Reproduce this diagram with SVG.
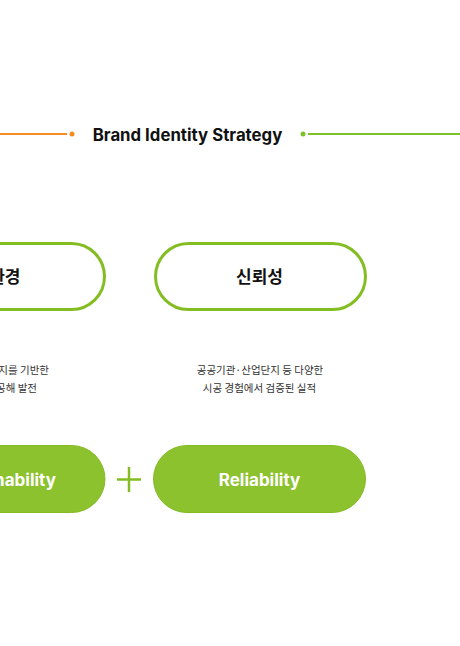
<svg xmlns="http://www.w3.org/2000/svg" width="460" height="646" viewBox="0 0 460 646">
<style>
.title{font-family:Inter,"Noto Sans","Noto Sans CJK KR",sans-serif;font-weight:700;font-size:16.8px;fill:#111}
.lbl{font-family:"Noto Sans CJK KR","Noto Sans",sans-serif;font-weight:700;font-size:17px;fill:#111;text-anchor:middle}
.desc{font-family:"Noto Sans CJK KR","Noto Sans",sans-serif;font-size:10.5px;fill:#333;text-anchor:middle}
.en{font-family:Inter,"Noto Sans",sans-serif;font-weight:700;font-size:17px;fill:#fff;text-anchor:middle}
.outline{fill:#fff;stroke:#84bd22;stroke-width:3}
.fill{fill:#8dc22f;stroke:#84bb25;stroke-width:1}
</style>
<rect width="460" height="646" fill="#fff"/>
<g id="header">
<line x1="0" y1="134" x2="67" y2="134" stroke="#f68b1f" stroke-width="2"/>
<circle cx="72" cy="134" r="2.5" fill="#f68b1f"/>
<text class="title" x="187.5" y="141" text-anchor="middle">Brand Identity Strategy</text>
<circle cx="303" cy="134" r="2.5" fill="#7cc02a"/>
<line x1="308" y1="134" x2="460" y2="134" stroke="#7cc02a" stroke-width="2"/>
</g>
<g id="node-eco">
<rect class="outline" x="-105.5" y="243.5" width="210" height="66" rx="33"/>
<text class="lbl" x="-3" y="283">친환경</text>
<text class="desc" x="49" y="374" style="text-anchor:end">에너지를 기반한</text>
<text class="desc" x="37" y="392" style="text-anchor:end">무공해 발전</text>
</g>
<g id="node-trust">
<rect class="outline" x="155.5" y="243.5" width="210" height="66" rx="33"/>
<text class="lbl" x="259.5" y="283">신뢰성</text>
<text class="desc" x="260" y="374">공공기관·산업단지 등 다양한</text>
<text class="desc" x="259.5" y="392">시공 경험에서 검증된 실적</text>
</g>
<g id="node-sustainability">
<rect class="fill" x="-108" y="445.5" width="213" height="67" rx="33.5"/>
<text class="en" x="-1" y="486">Sustainability</text>
</g>
<g id="node-reliability">
<rect class="fill" x="153.5" y="445.5" width="212" height="67" rx="33.5"/>
<text class="en" x="259.5" y="486">Reliability</text>
</g>
<g id="connectors">
<line x1="117" y1="479.5" x2="141" y2="479.5" stroke="#84bd22" stroke-width="2.5"/>
<line x1="129" y1="467" x2="129" y2="492" stroke="#84bd22" stroke-width="2.5"/>
</g>
</svg>
